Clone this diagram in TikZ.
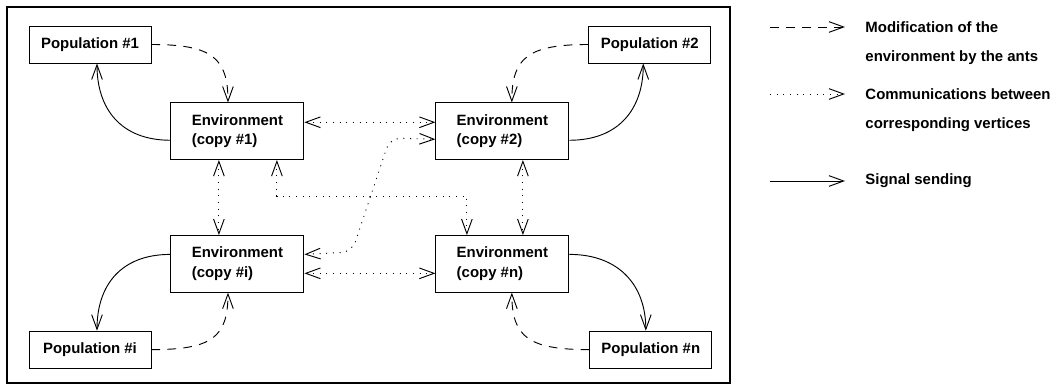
\documentclass[tikz,border=0pt]{standalone}
\usepackage{fontspec}
\setmainfont{Liberation Sans}
\usetikzlibrary{arrows.meta, positioning}

\begin{document}
\begin{tikzpicture}[
    x=0.75pt, y=-0.75pt,
    line width=0.7pt,
    >={Straight Barb[length=11pt, width=8pt]},
    popbox/.style={rectangle, draw, minimum width=91.5pt, minimum height=27.75pt, font=\fontsize{11.2}{14}\selectfont\bfseries},
    envbox/.style={rectangle, draw, align=left, minimum width=99.75pt, minimum height=42.5pt, font=\fontsize{11.2}{14.6}\selectfont\bfseries},
    legtext/.style={anchor=west, align=left, inner sep=0pt, font=\fontsize{11.2}{21.75}\selectfont\bfseries},
    modif/.style={->, dash pattern=on 6.5pt off 5.5pt},
    comm/.style={<->, dash pattern=on 0.75pt off 4.25pt},
    signal/.style={->}
]
\useasboundingbox (0,0) rectangle (1057,388);

% Frame
\draw[line width=1.6pt] (7,7) rectangle (730,383);

% Populations and copies of the environment
\node[popbox] (pop_1) at (90,44.5) {Population \#1};
\node[envbox, below right=29.25pt and 14.25pt of pop_1] (env_1) {Environment\\(copy \#1)};
\node[envbox, right=98.25pt of env_1] (env_2) {Environment\\(copy \#2)};
\node[popbox, above right=29.25pt and 14.25pt of env_2] (pop_2) {Population \#2};
\node[envbox, below=56.25pt of env_1] (env_i) {Environment\\(copy \#i)};
\node[envbox, below=56.25pt of env_2] (env_n) {Environment\\(copy \#n)};
\node[popbox, below left=28.5pt and 14.25pt of env_i] (pop_i) {Population \#i};
\node[popbox, below right=28.5pt and 15pt of env_n] (pop_n) {Population \#n};

% Modification of the environment
\draw[modif] (pop_1.east) .. controls +(60,0) and +(0,-45) .. ([xshift=-7.1pt]env_1.north);
\draw[modif] (pop_2.west) .. controls +(-60,0) and +(0,-45) .. ([xshift=7.1pt]env_2.north);
\draw[modif] (pop_i.east) .. controls +(60,0) and +(0,45) .. ([xshift=-7.1pt]env_i.south);
\draw[modif] (pop_n.west) .. controls +(-60,0) and +(0,45) .. ([xshift=7.1pt]env_n.south);

% Signal sending
\draw[signal] ([yshift=-6.75pt]env_1.west) .. controls +(-50,0) and +(0,45) .. ([xshift=5.25pt]pop_1.south);
\draw[signal] ([yshift=-6.75pt]env_2.east) .. controls +(50,0) and +(0,45) .. ([xshift=-4.9pt]pop_2.south);
\draw[signal] ([yshift=7.1pt]env_i.west) .. controls +(-50,0) and +(0,-45) .. ([xshift=5.25pt]pop_i.north);
\draw[signal] ([yshift=7.1pt]env_n.east) .. controls +(50,0) and +(0,-45) .. ([xshift=-3.75pt]pop_n.north);

% Communications between copies
\draw[comm] ([yshift=6.75pt]env_1.east) -- ([yshift=6.75pt]env_2.west);
\draw[comm] ([yshift=-7.1pt]env_i.east) -- ([yshift=-7.1pt]env_n.west);
\draw[comm] ([xshift=-13.9pt]env_1.south) -- ([xshift=-13.9pt]env_i.north);
\draw[comm] ([xshift=15.4pt]env_2.south) -- ([xshift=15.4pt]env_n.north);
\coordinate (cross_mid) at (370,196);
\draw[comm] ([xshift=29.6pt]env_1.south) |- (cross_mid) -| ([xshift=-26.6pt]env_n.north);
\draw[comm, rounded corners=8pt] ([yshift=7.1pt]env_i.east) -- (352,252) -- (390,138) -- ([yshift=-6pt]env_2.west);

% Legend
\coordinate (mod_a) at (770,27);
\coordinate (mod_b) at (845,27);
\draw[modif] (mod_a) -- (mod_b);
\node[legtext] (mod_txt) at (865,43) {Modification of the\\environment by the ants};

\coordinate (com_a) at (770,94);
\coordinate (com_b) at (845,94);
\draw[comm, ->] (com_a) -- (com_b);
\node[legtext] (com_txt) at (865,110) {Communications between\\corresponding vertices};

\coordinate (sig_a) at (770,181);
\coordinate (sig_b) at (845,181);
\draw[signal] (sig_a) -- (sig_b);
\node[legtext] (sig_txt) at (865,181) {Signal sending};

\end{tikzpicture}
\end{document}
